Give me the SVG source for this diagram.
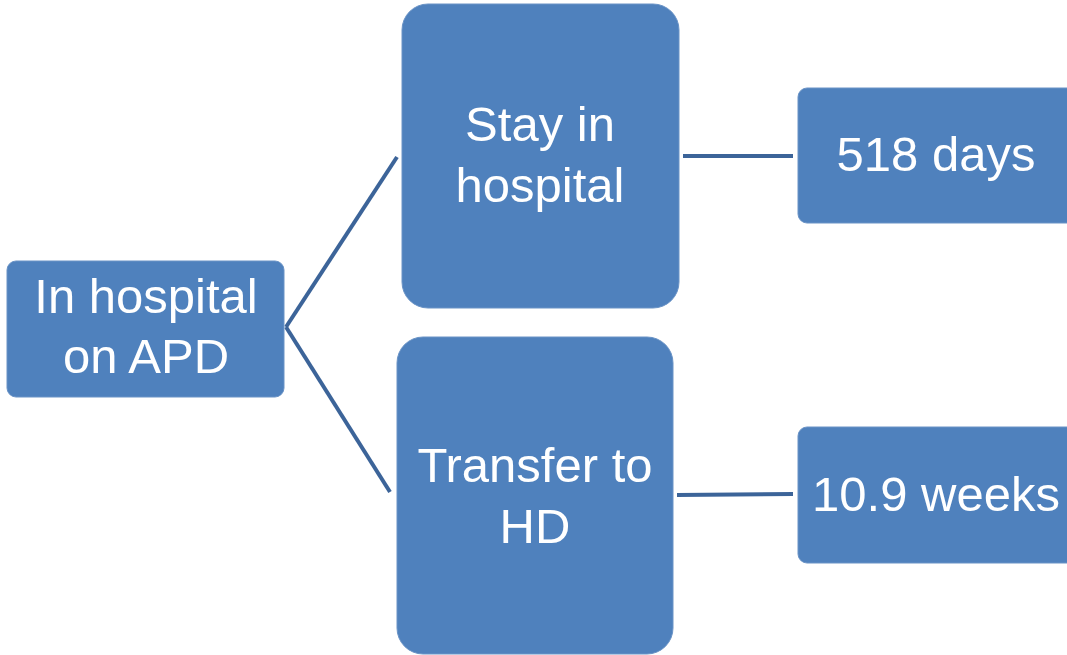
<svg xmlns="http://www.w3.org/2000/svg" width="1067" height="655" viewBox="0 0 1067 655">
<style>
.box{fill:#4F81BD;stroke:#6A93C6;stroke-width:1}
.lbl{font-family:"Liberation Sans",Arial,sans-serif;font-size:49px;fill:#FFFFFF;text-anchor:middle}
.con{stroke:#3C6499;stroke-width:4;fill:none}
</style>
<rect width="1067" height="655" fill="#FFFFFF"/>
<g id="connectors">
<path class="con" d="M286,327 L397,157"/>
<path class="con" d="M286,327 L390,492"/>
<path class="con" d="M683,156 L793,156"/>
<path class="con" d="M677,495 L793,494"/>
</g>
<g id="node-apd">
<rect class="box" x="7" y="261" width="277" height="136" rx="9"/>
<text class="lbl" x="146" y="313">In hospital</text>
<text class="lbl" x="146" y="373">on APD</text>
</g>
<g id="node-stay">
<rect class="box" x="402" y="4" width="277" height="304" rx="26"/>
<text class="lbl" x="540" y="141">Stay in</text>
<text class="lbl" x="540" y="202">hospital</text>
</g>
<g id="node-transfer">
<rect class="box" x="397" y="337" width="276" height="317" rx="26"/>
<text class="lbl" x="535" y="482">Transfer to</text>
<text class="lbl" x="535" y="543">HD</text>
</g>
<g id="node-days">
<rect class="box" x="798" y="88" width="290" height="135" rx="9"/>
<text class="lbl" x="936" y="171">518 days</text>
</g>
<g id="node-weeks">
<rect class="box" x="798" y="427" width="290" height="136" rx="9"/>
<text class="lbl" x="936" y="511">10.9 weeks</text>
</g>
</svg>
